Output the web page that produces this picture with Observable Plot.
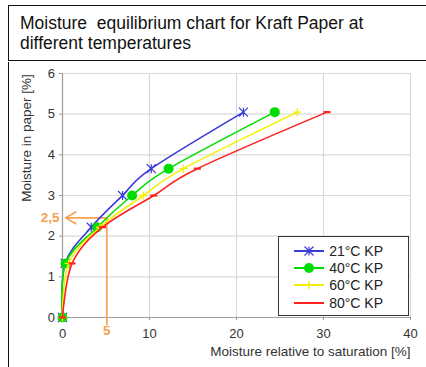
<!DOCTYPE html>
<html><head><meta charset="utf-8">
<script src="https://cdn.jsdelivr.net/npm/d3@7"></script>
<script src="https://cdn.jsdelivr.net/npm/@observablehq/plot@0.6"></script>
<style>
html,body{margin:0;padding:0;background:#fff;width:426px;height:367px;overflow:hidden;font-family:"Liberation Sans",Arial,sans-serif;}
#title{position:absolute;left:8px;top:5px;width:440px;height:53.5px;border-top:1.5px solid #111;border-left:1.5px solid #111;border-bottom:1.5px solid #111;}
#title div{padding:6.8px 0 0 11px;font-size:17.5px;line-height:20px;color:#111;white-space:pre;}
#panel{position:absolute;left:8px;top:61.5px;height:320px;border-left:1.5px solid #111;}
#chart{position:absolute;left:10px;top:61px;}
#chart svg{background:transparent;overflow:visible;}
#ytitle{position:absolute;left:26.5px;top:137.5px;transform:translate(-50%,-50%) rotate(-90deg);font-size:13.5px;color:#333;white-space:nowrap;line-height:16px;}
#legend{position:absolute;left:278px;top:236px;width:131px;height:80px;box-sizing:border-box;border:1.3px solid #333;background:#fff;padding:5.5px 0 0 14.7px;}
#legend .row{height:17.2px;display:flex;align-items:center;font-size:14px;color:#222;}
#legend svg{margin-right:5.5px;}
</style></head>
<body>
<div id="title"><div>Moisture  equilibrium chart for Kraft Paper at
different temperatures</div></div>
<div id="panel"></div>
<div id="chart"></div>
<div id="ytitle"></div>
<div id="legend"></div>
<script>
// ---- data ----
const seriesNames = ["21°C KP", "40°C KP", "60°C KP", "80°C KP"];
const seriesColors = ["#3a3ad8", "#00dd00", "#f2f200", "#ff2020"];
const moistureInPaper = [0, 1.33, 2.22, 3.0, 3.66, 5.05];
const sat21 = [0, 0.3, 3.3, 6.9, 10.2, 20.8];
const sat40 = [0, 0.35, 4.0, 8.0, 12.2, 24.4];
const sat60 = [0, 0.7, 4.3, 9.3, 13.9, 27.0];
const sat80 = [0, 1.1, 4.6, 10.5, 15.5, 30.4];
const xTicks = [0, 10, 20, 30, 40];
const yTicks = [0, 1, 2, 3, 4, 5, 6];
const guideX = [5.1];
const guideY = [2.45];
const guideLabels = ["5", "2,5"];
const xTitle = "Moisture relative to saturation [%]";
const yTitle = "Moisture in paper [%]";
const orange = "#f7a050";

// ---- symbols ----
const symStar = {draw(c, size) {const r = Math.sqrt(size / Math.PI);
  c.moveTo(-r, -r); c.lineTo(r, r); c.moveTo(-r, r); c.lineTo(r, -r); c.moveTo(0, -r); c.lineTo(0, r);}};
const symPlus = {draw(c, size) {const r = Math.sqrt(size / Math.PI);
  c.moveTo(-r, 0); c.lineTo(r, 0); c.moveTo(0, -r); c.lineTo(0, r);}};
const symDash = {draw(c, size) {const r = Math.sqrt(size / Math.PI);
  c.moveTo(-r, 0); c.lineTo(r, 0);}};
const symCircle = {draw(c, size) {const r = Math.sqrt(size / Math.PI);
  c.moveTo(r, 0); c.arc(0, 0, r, 0, 2 * Math.PI);}};
const seriesSat = [sat21, sat40, sat60, sat80];
const seriesSym = [
  {symbol: symStar, r: 4.5, stroke: seriesColors[0], fill: "none", strokeWidth: 1.2},
  {symbol: symCircle, r: 5, fill: seriesColors[1], stroke: "none"},
  {symbol: symPlus, r: 4, stroke: seriesColors[2], fill: "none", strokeWidth: 1.4},
  {symbol: symDash, r: 3.5, stroke: seriesColors[3], fill: "none", strokeWidth: 2.2}
];

const table = seriesNames.map((name, i) =>
  seriesSat[i].map((s, j) => ({series: name, sat: s, moist: moistureInPaper[j]})));

const fmt = d3.format("d");
const smooth = d3.curveCatmullRom.alpha(0);
const marks = [
  Plot.gridX(xTicks, {stroke: "#dadada", strokeOpacity: 1, strokeWidth: 1.2}),
  Plot.gridY(yTicks, {stroke: "#dadada", strokeOpacity: 1, strokeWidth: 1.2}),
  Plot.ruleY([0], {stroke: "#a0a0a0", strokeWidth: 1.2}),
  Plot.ruleX([0], {stroke: "#a0a0a0", strokeWidth: 1.2}),
  Plot.axisX({ticks: xTicks, tickFormat: fmt, tickSize: 3, tickPadding: 8, color: "#333", stroke: "#999", fontSize: 13, label: null}),
  Plot.axisY({ticks: yTicks, tickFormat: fmt, tickSize: 3, tickPadding: 4.5, color: "#333", stroke: "#999", fontSize: 13, label: null}),
  Plot.text([xTitle], {frameAnchor: "bottom-right", dy: 38.5, textAnchor: "end", fontSize: 13.5, fill: "#333"}),
  Plot.arrow(guideX, {x1: d => d, y1: () => guideY[0], x2: 0.35, y2: () => guideY[0], stroke: orange, strokeWidth: 1.6, headLength: 11, bend: 0}),
  Plot.ruleX(guideX, {y1: guideY[0], y2: -0.2, stroke: orange, strokeWidth: 1.6}),
  Plot.text([guideLabels[0]], {x: guideX[0], y: 0, dy: 13, fill: orange, fontWeight: "bold", fontSize: 13.5}),
  Plot.text([guideLabels[1]], {x: 0, y: guideY[0], dx: -3, textAnchor: "end", fill: orange, fontWeight: "bold", fontSize: 13.5})
];
table.forEach((rows, i) => {
  marks.push(Plot.line(rows, {x: "sat", y: "moist", stroke: seriesColors[i], strokeWidth: 1.6, curve: smooth}));
  marks.push(Plot.dot(rows, {x: "sat", y: "moist", ...seriesSym[i]}));
});

const chart = Plot.plot({
  width: 416, height: 306,
  marginLeft: 52, marginRight: 16, marginTop: 12, marginBottom: 50,
  x: {domain: [0, 40], label: null},
  y: {domain: [0, 6], label: null},
  style: {fontFamily: '"Liberation Sans", Arial, sans-serif', background: "transparent"},
  marks
});
document.getElementById("chart").appendChild(chart);
document.getElementById("ytitle").textContent = yTitle;

// ---- legend ----
const legend = d3.select("#legend");
seriesNames.forEach((name, i) => {
  const row = legend.append("div").attr("class", "row");
  const s = row.append("svg").attr("width", 30).attr("height", 12);
  s.append("line").attr("x1", 0).attr("x2", 30).attr("y1", 6).attr("y2", 6)
    .attr("stroke", seriesColors[i]).attr("stroke-width", 2);
  const o = seriesSym[i];
  if (i !== 3) {
    s.append("path").attr("transform", "translate(15,6)")
      .attr("d", d3.symbol(o.symbol, o.r * o.r * Math.PI)())
      .attr("fill", o.fill).attr("stroke", o.stroke).attr("stroke-width", o.strokeWidth || 1);
  }
  row.append("span").text(name);
});
</script>
</body></html>
